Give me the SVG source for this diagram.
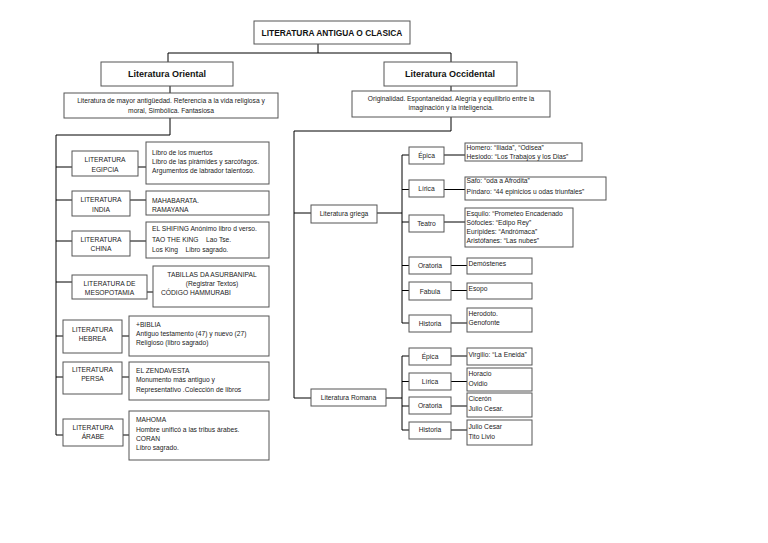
<svg xmlns="http://www.w3.org/2000/svg" width="768" height="543" viewBox="0 0 768 543">
<style>
.b{fill:#fff;stroke:#555;stroke-width:1}
.t{font-family:"Liberation Sans",Arial,sans-serif;font-size:6.7px;fill:#222}
.c{text-anchor:middle}
.h{font-weight:bold;font-size:9px;fill:#111}
#conn path{fill:none;stroke:#000;stroke-width:1}
</style>
<rect width="768" height="543" fill="#fff"/>
<g id="conn">
<path d="M318,44V53M168,53H451M168,53V62M451,53V62M170,86V93M451,86V91"/>
<path d="M170,118V135H56V435M56,167H72M138,167H146M56,200H72M130,200H146M56,241H72M130,241H146M56,282H72M147,292H153M56,336H63M122,336H129M56,377H63M122,377H129M56,435H63M123,435H129"/>
<path d="M451,117V131H294V398M294,213H311M377,213H402M402,155V323M402,155H409M402,189.5H409M402,222H409M402,265.5H409M402,290.5H409M402,323H409"/>
<path d="M444,155H465M444,189.5H465M444,222H465M451,265.5H467M451,290.5H467M451,323H467"/>
<path d="M294,398H311M386,398H402M402,356V430M402,356H409M402,381.5H409M402,406H409M402,430H409M451,356H467M451,381.5H467M451,406H467M451,430H467"/>
</g>
<g id="n-root"><rect class="b" x="254" y="21" width="156" height="23"/><text class="t c h" x="332" y="35.5" style="font-size:8.4px">LITERATURA ANTIGUA O CLASICA</text></g>
<g id="n-oriental"><rect class="b" x="101" y="62" width="132" height="24"/><text class="t c h" x="167" y="77">Literatura Oriental</text></g>
<g id="n-occidental"><rect class="b" x="384" y="62" width="133" height="24"/><text class="t c h" x="450" y="77">Literatura Occidental</text></g>
<g id="n-oriental-desc"><rect class="b" x="64" y="93" width="214" height="25"/><text class="t c" x="171" y="103">Literatura de mayor antigüedad. Referencia a la vida religiosa y</text><text class="t c" x="171" y="112.5">moral, Simbólica. Fantasiosa</text></g>
<g id="n-occidental-desc"><rect class="b" x="352" y="91" width="198" height="26"/><text class="t c" x="451" y="100.5">Originalidad. Espontaneidad. Alegría y equilibrio entre la</text><text class="t c" x="451" y="110">imaginación y la inteligencia.</text></g>

<g id="n-egipcia"><rect class="b" x="72" y="151" width="66" height="25"/><text class="t c" x="105" y="161.5">LITERATURA</text><text class="t c" x="105" y="171.5">EGIPCIA</text></g>
<g id="n-egipcia-c"><rect class="b" x="146" y="142" width="123" height="42"/><text class="t" x="152" y="154.5">Libro de los muertos</text><text class="t" x="152" y="163.5">Libro de las pirámides y sarcófagos.</text><text class="t" x="152" y="172.5">Argumentos de labrador talentoso.</text></g>
<g id="n-india"><rect class="b" x="72" y="191" width="58" height="25"/><text class="t c" x="101" y="202">LITERATURA</text><text class="t c" x="101" y="211.5">INDIA</text></g>
<g id="n-india-c"><rect class="b" x="146" y="191" width="123" height="24"/><text class="t" x="152" y="202.5">MAHABARATA.</text><text class="t" x="152" y="212">RAMAYANA</text></g>
<g id="n-china"><rect class="b" x="72" y="231" width="58" height="25"/><text class="t c" x="101" y="241.5">LITERATURA</text><text class="t c" x="101" y="250.5">CHINA</text></g>
<g id="n-china-c"><rect class="b" x="146" y="222" width="123" height="36"/><text class="t" x="152" y="230.5">EL SHIFING Anónimo libro d verso.</text><text class="t" x="152" y="242.3" xml:space="preserve">TAO THE KING    Lao Tse.</text><text class="t" x="152" y="251.6" xml:space="preserve">Los King    Libro sagrado.</text></g>
<g id="n-meso"><rect class="b" x="72" y="275" width="75" height="24"/><text class="t c" x="109.5" y="285.5">LITERATURA DE</text><text class="t c" x="109.5" y="295">MESOPOTAMIA</text></g>
<g id="n-meso-c"><rect class="b" x="153" y="266" width="116" height="41"/><text class="t c" x="212" y="276.5">TABILLAS DA ASURBANIPAL</text><text class="t c" x="212" y="286.3">(Registrar Textos)</text><text class="t" x="161" y="294.6">CÓDIGO HAMMURABI</text></g>
<g id="n-hebrea"><rect class="b" x="63" y="320" width="59" height="33"/><text class="t c" x="92.5" y="331.5">LITERATURA</text><text class="t c" x="92.5" y="340.5">HEBREA</text></g>
<g id="n-hebrea-c"><rect class="b" x="129" y="316" width="140" height="40"/><text class="t" x="136" y="326.5">+BIBLIA</text><text class="t" x="136" y="335.5">Antiguo testamento (47) y nuevo (27)</text><text class="t" x="136" y="345">Religioso (libro sagrado)</text></g>
<g id="n-persa"><rect class="b" x="63" y="362" width="59" height="32"/><text class="t c" x="92.5" y="372.3">LITERATURA</text><text class="t c" x="92.5" y="381.3">PERSA</text></g>
<g id="n-persa-c"><rect class="b" x="129" y="362" width="140" height="38"/><text class="t" x="136" y="373">EL ZENDAVESTA</text><text class="t" x="136" y="382.3">Monumento más antiguo y</text><text class="t" x="136" y="391.6">Representativo .Colección de libros</text></g>
<g id="n-arabe"><rect class="b" x="63" y="419" width="60" height="27"/><text class="t c" x="93" y="429.6">LITERATURA</text><text class="t c" x="93" y="439">ÁRABE</text></g>
<g id="n-arabe-c"><rect class="b" x="129" y="411" width="140" height="49"/><text class="t" x="136" y="422.3">MAHOMA</text><text class="t" x="136" y="431.6">Hombre unificó a las tribus árabes.</text><text class="t" x="136" y="440.6">CORAN</text><text class="t" x="136" y="450">Libro sagrado.</text></g>

<g id="n-griega"><rect class="b" x="311" y="205" width="66" height="18"/><text class="t c" x="344" y="216.3">Literatura griega</text></g>
<g id="n-g-epica"><rect class="b" x="409" y="147" width="35" height="17"/><text class="t c" x="426.5" y="158">Épica</text></g>
<g id="n-g-epica-c"><rect class="b" x="465" y="143" width="117" height="18"/><text class="t" x="466.5" y="149.6">Homero: “Iliada”, “Odisea”</text><text class="t" x="466.5" y="159">Hesiodo: “Los Trabajos y los Dias”</text></g>
<g id="n-g-lirica"><rect class="b" x="409" y="180" width="35" height="17"/><text class="t c" x="426.5" y="191">Lírica</text></g>
<g id="n-g-lirica-c"><rect class="b" x="465" y="177" width="141" height="23"/><text class="t" x="466.5" y="183">Safo: “oda a Afrodita”</text><text class="t" x="466.5" y="194">Píndaro: “44 epinicios u odas triunfales”</text></g>
<g id="n-g-teatro"><rect class="b" x="409" y="215" width="35" height="17"/><text class="t c" x="426.5" y="226">Teatro</text></g>
<g id="n-g-teatro-c"><rect class="b" x="465" y="208" width="108" height="39"/><text class="t" x="466.5" y="216.3">Esquilo: “Prometeo Encadenado</text><text class="t" x="466.5" y="224.6">Sófocles: “Edipo Rey”</text><text class="t" x="466.5" y="234">Eurípides: “Andrómaca”</text><text class="t" x="466.5" y="243">Aristófanes: “Las nubes”</text></g>
<g id="n-g-oratoria"><rect class="b" x="409" y="257" width="42" height="17"/><text class="t c" x="430" y="268.3">Oratoria</text></g>
<g id="n-g-oratoria-c"><rect class="b" x="467" y="258" width="65" height="16"/><text class="t" x="468.5" y="265.6">Demóstenes</text></g>
<g id="n-g-fabula"><rect class="b" x="409" y="282" width="42" height="18"/><text class="t c" x="430" y="294">Fabula</text></g>
<g id="n-g-fabula-c"><rect class="b" x="467" y="283" width="65" height="16"/><text class="t" x="468.5" y="290.6">Esopo</text></g>
<g id="n-g-historia"><rect class="b" x="409" y="315" width="42" height="17"/><text class="t c" x="430" y="325.6">Historia</text></g>
<g id="n-g-historia-c"><rect class="b" x="467" y="308" width="65" height="24"/><text class="t" x="468.5" y="316.3">Herodoto.</text><text class="t" x="468.5" y="325.3">Genofonte</text></g>

<g id="n-romana"><rect class="b" x="311" y="389" width="75" height="17"/><text class="t c" x="348.5" y="400.3">Literatura Romana</text></g>
<g id="n-r-epica"><rect class="b" x="409" y="348" width="42" height="17"/><text class="t c" x="430" y="359">Épica</text></g>
<g id="n-r-epica-c"><rect class="b" x="467" y="348" width="65" height="17"/><text class="t" x="468.5" y="357.3">Virgilio: “La Eneida”</text></g>
<g id="n-r-lirica"><rect class="b" x="409" y="373" width="42" height="17"/><text class="t c" x="430" y="384">Lírica</text></g>
<g id="n-r-lirica-c"><rect class="b" x="467" y="368" width="65" height="23"/><text class="t" x="468.5" y="376.3">Horacio</text><text class="t" x="468.5" y="385.6">Ovidio</text></g>
<g id="n-r-oratoria"><rect class="b" x="409" y="397" width="42" height="17"/><text class="t c" x="430" y="408.3">Oratoria</text></g>
<g id="n-r-oratoria-c"><rect class="b" x="467" y="393" width="65" height="24"/><text class="t" x="468.5" y="400.6">Cicerón</text><text class="t" x="468.5" y="411.3">Julio Cesar.</text></g>
<g id="n-r-historia"><rect class="b" x="409" y="422" width="42" height="17"/><text class="t c" x="430" y="432.3">Historia</text></g>
<g id="n-r-historia-c"><rect class="b" x="467" y="420" width="65" height="25"/><text class="t" x="468.5" y="429">Julio Cesar</text><text class="t" x="468.5" y="439">Tito Livio</text></g>
</svg>
